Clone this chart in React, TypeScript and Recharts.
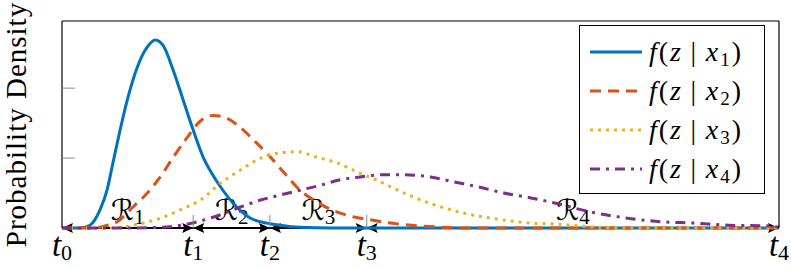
// Class-conditional densities f(z|x_i) with decision regions R_1..R_4 on the z axis.

import { Legend, Line, LineChart, ReferenceLine, XAxis, YAxis } from "recharts";

// region boundaries t0..t4 along z
const T = [0, 1.83, 2.9, 4.25, 10];
const T_SUBS = ["0", "1", "2", "3", "4"];
const REGION_SUBS = ["1", "2", "3", "4"];
const Y_TICKS = [1, 2];
const Y_MAX = 2.96;

// f(z|x1)
const Z1 = [0, 0.25, 0.39, 0.46, 0.53, 0.63, 0.71, 0.81, 0.91, 1.05, 1.19, 1.3, 1.41, 1.55, 1.69, 1.83, 1.97, 2.09, 2.21, 2.39, 2.63, 2.86, 3.04, 3.32, 3.74, 10];
const P1 = [0, 0, 0.04, 0.12, 0.26, 0.55, 0.93, 1.4, 1.83, 2.3, 2.59, 2.69, 2.61, 2.26, 1.83, 1.4, 1.01, 0.78, 0.59, 0.35, 0.14, 0.07, 0.04, 0.01, 0, 0];

// f(z|x2)
const Z2 = [0, 0.46, 0.6, 0.77, 0.99, 1.19, 1.37, 1.55, 1.75, 1.93, 2.11, 2.3, 2.53, 2.72, 2.91, 3.09, 3.32, 3.56, 3.78, 4.06, 4.34, 4.58, 5.0, 5.7, 10];
const P2 = [0, 0, 0.03, 0.09, 0.3, 0.5, 0.73, 1.01, 1.3, 1.53, 1.61, 1.57, 1.4, 1.21, 1.01, 0.8, 0.54, 0.37, 0.25, 0.16, 0.11, 0.07, 0.03, 0, 0];

// f(z|x3)
const Z3 = [0, 0.67, 0.95, 1.13, 1.37, 1.65, 1.93, 2.21, 2.49, 2.77, 3.0, 3.28, 3.56, 3.84, 4.12, 4.4, 4.58, 4.86, 5.14, 5.42, 5.7, 5.98, 6.26, 6.54, 6.82, 7.09, 7.51, 8.07, 10];
const P3 = [0, 0, 0.03, 0.07, 0.14, 0.26, 0.4, 0.64, 0.83, 1.0, 1.07, 1.09, 1.01, 0.93, 0.8, 0.68, 0.59, 0.46, 0.35, 0.26, 0.19, 0.14, 0.1, 0.07, 0.06, 0.04, 0.01, 0, 0];

// f(z|x4)
const Z4 = [0, 0.81, 1.37, 1.93, 2.21, 2.49, 2.77, 3.04, 3.32, 3.6, 3.88, 4.16, 4.44, 4.76, 5.14, 5.46, 5.8, 6.16, 6.54, 6.86, 7.37, 7.89, 8.35, 8.81, 9.29, 9.85, 10];
const P4 = [0, 0, 0.01, 0.1, 0.19, 0.3, 0.4, 0.47, 0.54, 0.61, 0.69, 0.73, 0.76, 0.76, 0.73, 0.66, 0.59, 0.5, 0.43, 0.36, 0.23, 0.14, 0.09, 0.07, 0.04, 0.03, 0.01];

const zip = (z: number[], p: number[]) => z.map((v, i) => ({ z: v, p: p[i] }));

const SERIES = [
  { sub: "1", data: zip(Z1, P1), color: "#0072BD", dash: undefined },
  { sub: "2", data: zip(Z2, P2), color: "#D95319", dash: "11 7" },
  { sub: "3", data: zip(Z3, P3), color: "#EDB120", dash: "3 5" },
  { sub: "4", data: zip(Z4, P4), color: "#7E2F8E", dash: "10 6 3 6" },
];

const SERIF = "'Liberation Serif', 'DejaVu Serif', serif";
const GREY = "#8a8a8a";
const TICK_LEN = 13;

function BottomTick({ x, y, index }: any) {
  const inner = index > 0 && index < T.length - 1;
  return (
    <g>
      {inner && <line x1={x} x2={x} y1={y} y2={y - TICK_LEN} stroke={GREY} />}
      <text x={x} y={y + 28} textAnchor="middle" style={{ fontFamily: SERIF }} fontSize={33} fill="#000">
        <tspan fontStyle="italic">t</tspan>
        <tspan fontSize={22} dy={4}>{T_SUBS[index]}</tspan>
      </text>
    </g>
  );
}

function TopTick({ x, y }: any) {
  return <line x1={x} x2={x} y1={y} y2={y + TICK_LEN} stroke={GREY} />;
}

function LeftTick({ x, y }: any) {
  return <line x1={x} x2={x + TICK_LEN} y1={y} y2={y} stroke={GREY} />;
}

function RightTick({ x, y }: any) {
  return <line x1={x} x2={x - TICK_LEN} y1={y} y2={y} stroke={GREY} />;
}

function RegionArrow({ x1, y1, x2, sub }: any) {
  const h = 11;
  const w = 5;
  const head = (tip: number, dir: number) =>
    `${tip},${y1} ${tip + dir * h},${y1 - w} ${tip + dir * (h - 2)},${y1} ${tip + dir * h},${y1 + w}`;
  return (
    <g>
      <line x1={x1} y1={y1} x2={x2} y2={y1} stroke="#000" strokeWidth={2} />
      <polygon points={head(x1, 1)} fill="#000" />
      <polygon points={head(x2, -1)} fill="#000" />
      <text x={(x1 + x2) / 2} y={y1 - 8} textAnchor="middle" style={{ fontFamily: "'DejaVu Sans', serif" }} fontSize={29} fill="#000">
        ℛ<tspan style={{ fontFamily: SERIF }} fontSize={21} dy={4}>{sub}</tspan>
      </text>
    </g>
  );
}

function YLabel({ viewBox }: any) {
  const cx = (viewBox?.x ?? 61) + (viewBox?.width ?? 1) - 36;
  const cy = (viewBox?.y ?? 21) + (viewBox?.height ?? 207) / 2;
  return (
    <text
      x={cx}
      y={cy}
      transform={`rotate(-90 ${cx} ${cy})`}
      textAnchor="middle"
      style={{ fontFamily: SERIF }}
      fontSize={29}
      letterSpacing={1}
      fill="#000"
    >
      Probability Density
    </text>
  );
}

function LegendBox() {
  return (
    <div
      style={{
        boxSizing: "border-box",
        width: 186,
        height: 169,
        border: "1px solid #000",
        background: "#fff",
        padding: "6px 0 0 10px",
      }}
    >
      {SERIES.map((s) => (
        <div key={s.sub} style={{ display: "flex", alignItems: "center", height: 39 }}>
          <svg width={52} height={10}>
            <line x1={0} y1={5} x2={52} y2={5} stroke={s.color} strokeWidth={3} strokeDasharray={s.dash} />
          </svg>
          <span
            style={{
              marginLeft: 7,
              fontFamily: SERIF,
              fontSize: 28,
              letterSpacing: 2,
              whiteSpace: "nowrap",
              lineHeight: "28px",
            }}
          >
            <i>f</i>(<i>z</i>{"\u2009|\u2009"}<i>x</i>
            <sub style={{ fontSize: 19, verticalAlign: "-5px", lineHeight: 0 }}>{s.sub}</sub>)
          </span>
        </div>
      ))}
    </div>
  );
}

export default function App() {
  return (
    <div>
      <style>{"body{margin:0}"}</style>
      <LineChart width={791} height={268} margin={{ top: 20, right: 11, bottom: 0, left: 61 }}>
        <XAxis
          xAxisId="b"
          dataKey="z"
          type="number"
          domain={[0, 10]}
          ticks={T}
          interval={0}
          height={40}
          axisLine={false}
          tickLine={false}
          tickSize={0}
          tickMargin={0}
          tick={<BottomTick />}
        />
        <XAxis
          xAxisId="t"
          orientation="top"
          dataKey="z"
          type="number"
          domain={[0, 10]}
          ticks={T.slice(1, 4)}
          interval={0}
          height={1}
          axisLine={{ stroke: "#000", strokeWidth: 1.2 }}
          tickLine={false}
          tickSize={0}
          tickMargin={0}
          tick={<TopTick />}
        />
        <YAxis
          yAxisId="l"
          type="number"
          domain={[0, Y_MAX]}
          ticks={Y_TICKS}
          interval={0}
          width={1}
          axisLine={{ stroke: "#000", strokeWidth: 1.2 }}
          tickLine={false}
          tickSize={0}
          tickMargin={0}
          tick={<LeftTick />}
          label={{ content: (p: any) => <YLabel {...p} /> }}
        />
        <YAxis
          yAxisId="r"
          orientation="right"
          type="number"
          domain={[0, Y_MAX]}
          ticks={Y_TICKS}
          interval={0}
          width={1}
          axisLine={{ stroke: "#000", strokeWidth: 1.2 }}
          tickLine={false}
          tickSize={0}
          tickMargin={0}
          tick={<RightTick />}
        />
        {REGION_SUBS.map((sub, i) => (
          <ReferenceLine
            key={sub}
            xAxisId="b"
            yAxisId="l"
            ifOverflow="visible"
            segment={[
              { x: T[i], y: 0 },
              { x: T[i + 1], y: 0 },
            ]}
            shape={(p: any) => <RegionArrow {...p} sub={sub} />}
          />
        ))}
        {SERIES.map((s) => (
          <Line
            key={s.sub}
            xAxisId="b"
            yAxisId="l"
            data={s.data}
            dataKey="p"
            name={`f(z|x${s.sub})`}
            type="monotone"
            stroke={s.color}
            strokeWidth={3}
            strokeDasharray={s.dash}
            dot={false}
            activeDot={false}
            isAnimationActive={false}
          />
        ))}
        <Legend
          layout="vertical"
          align="center"
          verticalAlign="middle"
          wrapperStyle={{ left: 579, top: 25, width: 186 }}
          content={<LegendBox />}
        />
      </LineChart>
    </div>
  );
}
